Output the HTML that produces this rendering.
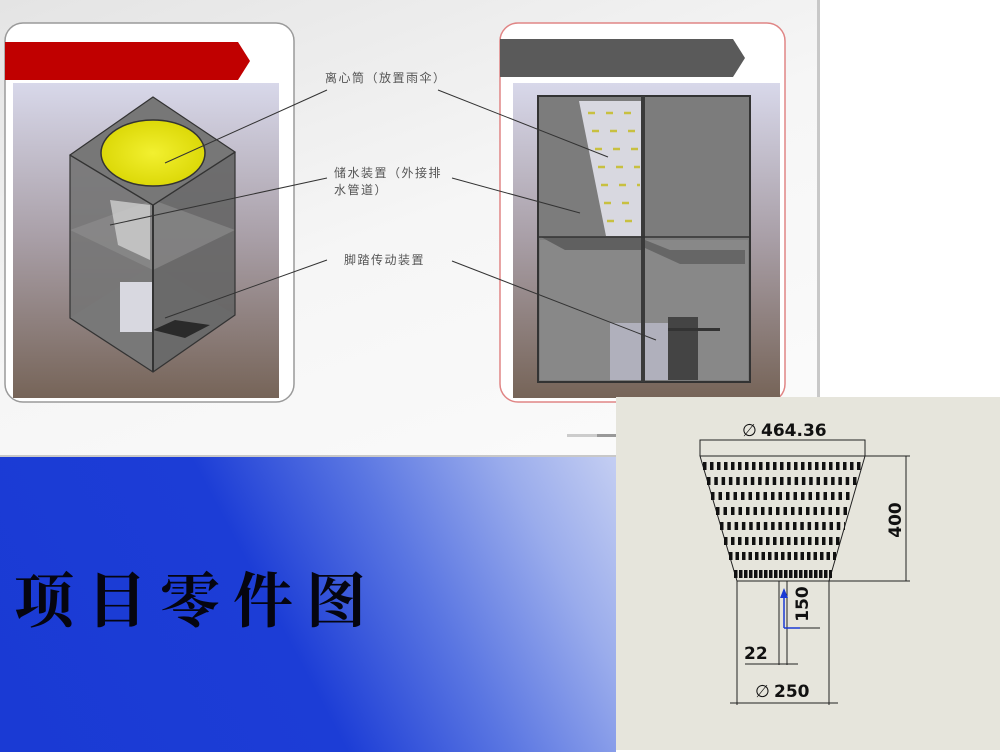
<!DOCTYPE html>
<html><head><meta charset="utf-8"><style>
html,body{margin:0;padding:0;width:1000px;height:750px;overflow:hidden;background:#fff}
#top{position:absolute;left:0;top:0;width:818px;height:455px;background:linear-gradient(160deg,#e4e4e4 0%,#f6f6f6 50%,#fbfbfb 100%)}
#vline{position:absolute;left:817px;top:0;width:3px;height:455px;background:#c8c8c8}
#blue{position:absolute;left:0;top:455px;width:616px;height:295px;border-top:2px solid #c8c8c8;background:linear-gradient(62deg,#1a3ad4 0%,#1c3dd6 45%,#5a76e2 66%,#9aacec 85%,#c4cef2 100%)}
#title{position:absolute;left:14px;top:562px;font-family:"Liberation Serif","Noto Serif CJK SC",serif;font-size:60px;font-weight:bold;letter-spacing:13px;color:#050510;line-height:80px}
#draw{position:absolute;left:616px;top:397px;width:384px;height:353px;background:#e6e5dc}
svg{position:absolute;left:0;top:0}
</style></head><body>
<div id="top"></div><div id="vline"></div>
<div id="blue"></div>
<div id="title">项目零件图</div>
<svg width="1000" height="750" xmlns="http://www.w3.org/2000/svg">
<defs>
<linearGradient id="pg" x1="0" y1="0" x2="0" y2="1">
<stop offset="0" stop-color="#d8d8ea"/><stop offset="0.5" stop-color="#a89ea6"/><stop offset="1" stop-color="#766458"/>
</linearGradient>
<radialGradient id="yl" cx="0.5" cy="0.5" r="0.6"><stop offset="0" stop-color="#f2f030"/><stop offset="1" stop-color="#d8d400"/></radialGradient>
</defs>
<rect x="5" y="23" width="289" height="379" rx="18" fill="#fff" stroke="#9a9a9a" stroke-width="1.5"/>
<polygon points="5,42 238,42 250,61 238,80 5,80" fill="#c00000"/>
<rect x="13" y="83" width="266" height="315" fill="url(#pg)"/>
<polygon points="70,318 153,372 235,315 153,265" fill="#9a9a9a"/>
<polygon points="70,155 153,205 153,372 70,318" fill="#747474" fill-opacity="0.9"/>
<polygon points="153,205 235,152 235,315 153,372" fill="#666" fill-opacity="0.92"/>
<polygon points="70,230 153,270 235,230 153,200" fill="#909090" fill-opacity="0.6"/>
<polygon points="110,200 150,205 150,260 118,245" fill="#d0d0d0" fill-opacity="0.8"/>
<rect x="120" y="282" width="32" height="50" fill="#d8d8e0"/>
<polygon points="153,330 175,320 210,325 185,338" fill="#2a2a2a"/>
<polyline points="70,155 153,205 235,152" fill="none" stroke="#333" stroke-width="1.5"/>
<polygon points="153,97 235,152 153,205 70,155" fill="#777" stroke="#333" stroke-width="1.2"/>
<ellipse cx="153" cy="153" rx="52" ry="33" fill="url(#yl)" stroke="#333" stroke-width="1.5"/>
<line x1="153" y1="205" x2="153" y2="372" stroke="#333" stroke-width="2"/>
<polyline points="70,155 70,318 153,372 235,315 235,152" fill="none" stroke="#333" stroke-width="1.2"/>
<rect x="500" y="23" width="285" height="379" rx="18" fill="#fff" stroke="#e08585" stroke-width="1.5"/>
<polygon points="500,39 733,39 745,58 733,77 500,77" fill="#5a5a5a"/>
<rect x="513" y="83" width="267" height="315" fill="url(#pg)"/>
<rect x="538" y="96" width="212" height="286" fill="#7c7c7c" stroke="#333" stroke-width="2"/>
<rect x="540" y="240" width="208" height="140" fill="#888"/>
<polygon points="579,101 642,101 642,236 606,236" fill="#d8d8e0"/>
<g stroke="#c8c040" stroke-width="2.5" stroke-dasharray="7,11">
<line x1="588" y1="113" x2="640" y2="113"/><line x1="592" y1="131" x2="640" y2="131"/><line x1="595" y1="149" x2="640" y2="149"/><line x1="598" y1="167" x2="640" y2="167"/><line x1="601" y1="185" x2="640" y2="185"/><line x1="604" y1="203" x2="640" y2="203"/><line x1="607" y1="221" x2="640" y2="221"/>
</g>
<polygon points="541,237 642,237 642,250 565,250" fill="#606060"/>
<polygon points="645,240 670,250 745,250 745,264 680,264 645,248" fill="#666"/>
<rect x="610" y="323" width="80" height="57" fill="#b0b0bc"/>
<rect x="668" y="317" width="30" height="63" fill="#444"/>
<rect x="668" y="328" width="52" height="3" fill="#333"/>
<rect x="641" y="96" width="4" height="286" fill="#3a3a3a"/>
<line x1="538" y1="237" x2="750" y2="237" stroke="#333" stroke-width="1.5"/>
<g font-family="'Liberation Sans','Noto Sans CJK SC',sans-serif" font-size="12" fill="#555">
<text x="325" y="82" letter-spacing="1.5">离心筒（放置雨伞）</text>
<text x="334" y="177" letter-spacing="1.5">储水装置（外接排</text>
<text x="334" y="194" letter-spacing="1.5">水管道）</text>
<text x="344" y="264" letter-spacing="1.5">脚踏传动装置</text>
</g>
<g stroke="#333" stroke-width="1">
<line x1="327" y1="90" x2="165" y2="163"/><line x1="438" y1="90" x2="608" y2="157"/>
<line x1="327" y1="178" x2="110" y2="225"/><line x1="452" y1="178" x2="580" y2="213"/>
<line x1="327" y1="260" x2="165" y2="318"/><line x1="452" y1="261" x2="656" y2="340"/>
</g>
<rect x="567" y="434" width="30" height="3" fill="#ccc"/><rect x="597" y="434" width="20" height="3" fill="#999"/>
</svg>
<div id="draw"></div>
<svg width="1000" height="750" xmlns="http://www.w3.org/2000/svg">
<polygon points="700,456 865,456 829,581 737,581" fill="#e6e5dc" stroke="#222" stroke-width="1"/>
<g stroke="#111" stroke-width="8">
<line x1="703" y1="466" x2="862" y2="466" stroke-dasharray="3.5,3.5"/>
<line x1="707" y1="481" x2="858" y2="481" stroke-dasharray="3.5,3.8"/>
<line x1="711" y1="496" x2="853" y2="496" stroke-dasharray="3.5,4"/>
<line x1="716" y1="511" x2="849" y2="511" stroke-dasharray="3.5,4"/>
<line x1="720" y1="526" x2="845" y2="526" stroke-dasharray="3.5,3.8"/>
<line x1="724" y1="541" x2="840" y2="541" stroke-dasharray="3.5,3.5"/>
<line x1="729" y1="556" x2="836" y2="556" stroke-dasharray="3.5,3"/>
<line x1="734" y1="574" x2="832" y2="574" stroke-dasharray="3.5,1.5"/>
</g>
<g stroke="#222" stroke-width="1" fill="none">
<polyline points="700,456 700,440 865,440 865,456"/>
<line x1="865" y1="456" x2="910" y2="456"/><line x1="829" y1="581" x2="910" y2="581"/>
<line x1="906" y1="456" x2="906" y2="581"/>
<line x1="737" y1="581" x2="737" y2="705"/><line x1="829" y1="581" x2="829" y2="705"/>
<line x1="730" y1="703" x2="838" y2="703"/>
<line x1="779" y1="581" x2="779" y2="665"/><line x1="787" y1="581" x2="787" y2="665"/>
<line x1="745" y1="664" x2="798" y2="664"/>
<line x1="790" y1="628" x2="820" y2="628"/>
</g>
<g stroke="#1a3ad4" stroke-width="1.5"><line x1="784" y1="590" x2="784" y2="628"/><line x1="784" y1="628" x2="800" y2="628"/></g>
<polygon points="780,598 784,588 788,598" fill="#1a3ad4"/>
<g font-family="'DejaVu Sans','Liberation Sans',sans-serif" font-weight="bold" fill="#111">
<text x="742" y="436" font-size="17" font-weight="normal">∅</text>
<text x="761" y="436" font-size="17">464.36</text>
<text x="755" y="697" font-size="17" font-weight="normal">∅</text>
<text x="774" y="697" font-size="17">250</text>
<text x="744" y="659" font-size="17">22</text>
<text x="901" y="520" font-size="17" transform="rotate(-90 901 520)" text-anchor="middle">400</text>
<text x="808" y="604" font-size="17" transform="rotate(-90 808 604)" text-anchor="middle">150</text>
</g>
</svg>
</body></html>
